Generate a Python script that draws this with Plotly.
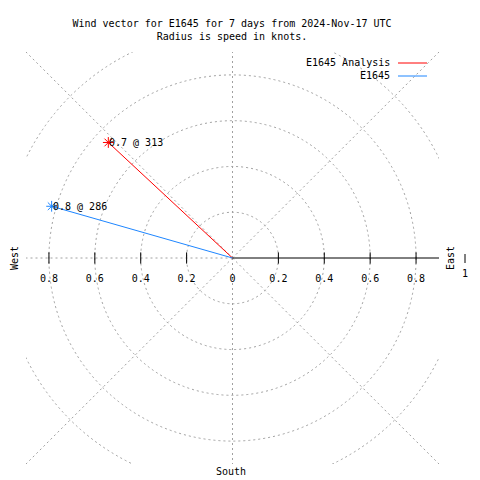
import numpy as np
import plotly.graph_objects as go

# ---- data ----
series_names = ["E1645 Analysis", "E1645"]
speeds_kt = [0.74, 0.82]          # knots
directions_deg = [313, 286]       # degrees clockwise from north
series_colors = ["#ff0000", "#1e86ff"]

ring_radii = [0.2, 0.4, 0.6, 0.8, 1.0]
spoke_angles = [0, 45, 135, 180, 225, 270, 315]
tick_vals = [-0.8, -0.6, -0.4, -0.2, 0, 0.2, 0.4, 0.6, 0.8]
tick_text = ["0.8", "0.6", "0.4", "0.2", "0", "0.2", "0.4", "0.6", "0.8"]

title_lines = ["Wind vector for E1645 for 7 days from 2024-Nov-17 UTC",
               "Radius is speed in knots."]

FONT = "DejaVu Sans Mono"
GRID = "#a0a0a0"
DASH = "2px,3px"

OFF = 8  # page body margin of the html document
W = H = 480 - OFF
L, R, T, B = 26 - OFF, 41, 52 - OFF, 16
PW, PH = W - L - R, H - T - B


def px(x):
    return (x - OFF - L) / PW


def py(y):
    return (H - B - (y - OFF)) / PH


fig = go.Figure()

shapes = []
for r in ring_radii:
    shapes.append(dict(type="circle", xref="x", yref="y", x0=-r, y0=-r, x1=r, y1=r,
                       line=dict(color=GRID, width=1, dash=DASH), layer="below"))
for a in spoke_angles:
    t = np.radians(a)
    shapes.append(dict(type="line", xref="x", yref="y", x0=0, y0=0,
                       x1=1.4 * np.sin(t), y1=1.4 * np.cos(t),
                       line=dict(color=GRID, width=1, dash=DASH), layer="below"))
shapes.append(dict(type="line", xref="x", yref="y", x0=0, y0=0, x1=0.9, y1=0,
                   line=dict(color="black", width=1)))

tk = [v for v in tick_vals if v != 0]
fig.add_trace(go.Scatter(x=tk, y=[0] * len(tk), mode="markers",
                         marker=dict(symbol="line-ns", size=8, color="black",
                                     line=dict(color="black", width=1)),
                         hoverinfo="skip", showlegend=False))

annotations = []
for name, s, d, c in zip(series_names, speeds_kt, directions_deg, series_colors):
    t = np.radians(d)
    xe, ye = s * np.sin(t), s * np.cos(t)
    fig.add_trace(go.Scatter(x=[0, xe], y=[0, ye], mode="lines",
                             line=dict(color=c, width=1), name=name, showlegend=False))
    fig.add_trace(go.Scatter(x=[xe], y=[ye], mode="markers",
                             marker=dict(symbol="asterisk-open", size=9, color=c,
                                         line=dict(color=c, width=1)),
                             showlegend=False, hoverinfo="skip"))
    annotations.append(dict(x=xe, y=ye, xref="x", yref="y", text=f"{s:.1f} @ {d}",
                            showarrow=False, xanchor="left", yanchor="middle", xshift=-1,
                            font=dict(family=FONT, size=10, color="black")))

for i, (name, c) in enumerate(zip(series_names, series_colors)):
    yy = 63 + 13 * i
    annotations.append(dict(x=px(392), y=py(yy), xref="paper", yref="paper", text=name,
                            showarrow=False, xanchor="right", yanchor="middle",
                            font=dict(family=FONT, size=10, color="black")))
    shapes.append(dict(type="line", xref="paper", yref="paper", x0=px(398), x1=px(427),
                       y0=py(yy), y1=py(yy), line=dict(color=c, width=1)))

annotations.append(dict(x=px(14), y=py(258), xref="paper", yref="paper", text="West",
                        textangle=-90, showarrow=False, xanchor="center", yanchor="middle",
                        font=dict(family=FONT, size=10, color="black")))
annotations.append(dict(x=px(450), y=py(258), xref="paper", yref="paper", text="East",
                        textangle=-90, showarrow=False, xanchor="center", yanchor="middle",
                        font=dict(family=FONT, size=10, color="black")))
annotations.append(dict(x=px(465), y=py(273), xref="paper", yref="paper", text="1",
                        showarrow=False, xanchor="center", yanchor="middle",
                        font=dict(family=FONT, size=10, color="black")))
shapes.append(dict(type="line", xref="paper", yref="paper", x0=px(465), x1=px(465),
                   y0=py(254), y1=py(263), line=dict(color="black", width=1)))
annotations.append(dict(x=px(231), y=py(471), xref="paper", yref="paper", text="South",
                        showarrow=False, xanchor="center", yanchor="middle",
                        font=dict(family=FONT, size=10, color="black")))

fig.update_layout(
    width=W, height=H, autosize=False,
    margin=dict(l=L, r=R, t=T, b=B, pad=0),
    paper_bgcolor="white", plot_bgcolor="white",
    title=dict(text="<br>".join(title_lines), x=(232 - OFF) / W, xanchor="center",
               y=1 - (27 - OFF) / H, yanchor="middle",
               font=dict(family=FONT, size=10, color="black")),
    xaxis=dict(range=[-0.9, 0.9], showgrid=False, zeroline=False, showline=False,
               tickmode="array", tickvals=tick_vals, ticktext=tick_text,
               ticks="outside", ticklen=11, tickcolor="rgba(0,0,0,0)",
               anchor="free", position=0.5, automargin=False,
               tickfont=dict(family=FONT, size=10, color="black")),
    yaxis=dict(range=[-0.9, 0.9], showgrid=False, zeroline=False, showline=False,
               showticklabels=False, ticks="", automargin=False),
    shapes=shapes, annotations=annotations, showlegend=False,
)

fig.write_html("out.html")
